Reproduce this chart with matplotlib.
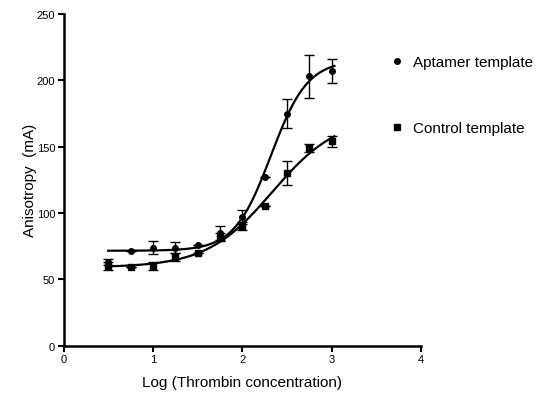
import numpy as np
import matplotlib
matplotlib.use('Agg')
import matplotlib.pyplot as plt
from matplotlib.lines import Line2D

plt.rcParams['font.family'] = ['Liberation Sans', 'DejaVu Sans']

# log concentration and anisotropy readings (mean, SD)
log_conc = [0.5, 0.75, 1.0, 1.25, 1.5, 1.75, 2.0, 2.25, 2.5, 2.75, 3.0]
aptamer = [63, 71, 74, 74, 76, 85, 97, 127, 175, 203, 207]
aptamer_err = [2, 0, 5, 4, 0, 5, 5, 0, 11, 16, 9]
control = [60, 59, 60, 67, 70, 82, 90, 105, 130, 149, 154]
control_err = [3, 0, 3, 3, 0, 3, 3, 0, 9, 3, 4]

x_ticks = [0, 1, 2, 3, 4]
y_ticks = [0, 50, 100, 150, 200, 250]


def sigmoid(x, bottom, top, logec50, hill):
    return bottom + (top - bottom) / (1 + 10 ** ((logec50 - x) * hill))


def fit_sigmoid(x, y):
    # grid over logEC50 / hill, bottom & top solved by linear least squares
    x = np.asarray(x, float)
    y = np.asarray(y, float)
    best = None
    for ec in np.arange(1.5, 3.5, 0.005):
        for h in np.arange(0.5, 4.0, 0.02):
            s = 1 / (1 + 10 ** ((ec - x) * h))
            A = np.column_stack([1 - s, s])
            coef, *_ = np.linalg.lstsq(A, y, rcond=None)
            r = np.sum((A @ coef - y) ** 2)
            if best is None or r < best[0]:
                best = (r, coef[0], coef[1], ec, h)
    return best[1:]


fig = plt.figure(figsize=(5.37, 4.02), dpi=100)
ax = fig.add_axes([0.1183, 0.1376, 0.666, 0.825])

xs = np.linspace(0.5, 3.03, 300)
for y, err, mk in [(aptamer, aptamer_err, 'o'), (control, control_err, 's')]:
    params = fit_sigmoid(log_conc, y)
    ax.plot(xs, sigmoid(xs, *params), color='black', lw=1.6, zorder=2)
    ax.errorbar(log_conc, y, yerr=err, fmt=mk, color='black', ms=4,
                elinewidth=1, capsize=3.5, capthick=1, zorder=3)

ax.set_xlim(0, 4)
ax.set_ylim(0, 250)
ax.set_xticks(x_ticks)
ax.set_yticks(y_ticks)
ax.tick_params(labelsize=8, width=1.5, length=4, pad=2)
for side in ['top', 'right']:
    ax.spines[side].set_visible(False)
for side in ['left', 'bottom']:
    ax.spines[side].set_linewidth(1.8)

ax.set_xlabel('Log (Thrombin concentration)', fontsize=11, labelpad=8)
ax.set_ylabel('Anisotropy  (mA)', fontsize=11, labelpad=0)

handles = [Line2D([], [], ls='none', marker='o', color='black', ms=4),
           Line2D([], [], ls='none', marker='s', color='black', ms=4)]
fig.legend(handles, ['Aptamer template', 'Control template'],
           loc='upper left', bbox_to_anchor=(0.703, 0.894), frameon=False,
           fontsize=11, labelspacing=3.4, handlelength=0.8, handletextpad=0.6)

fig.savefig('out.png', dpi=100)
